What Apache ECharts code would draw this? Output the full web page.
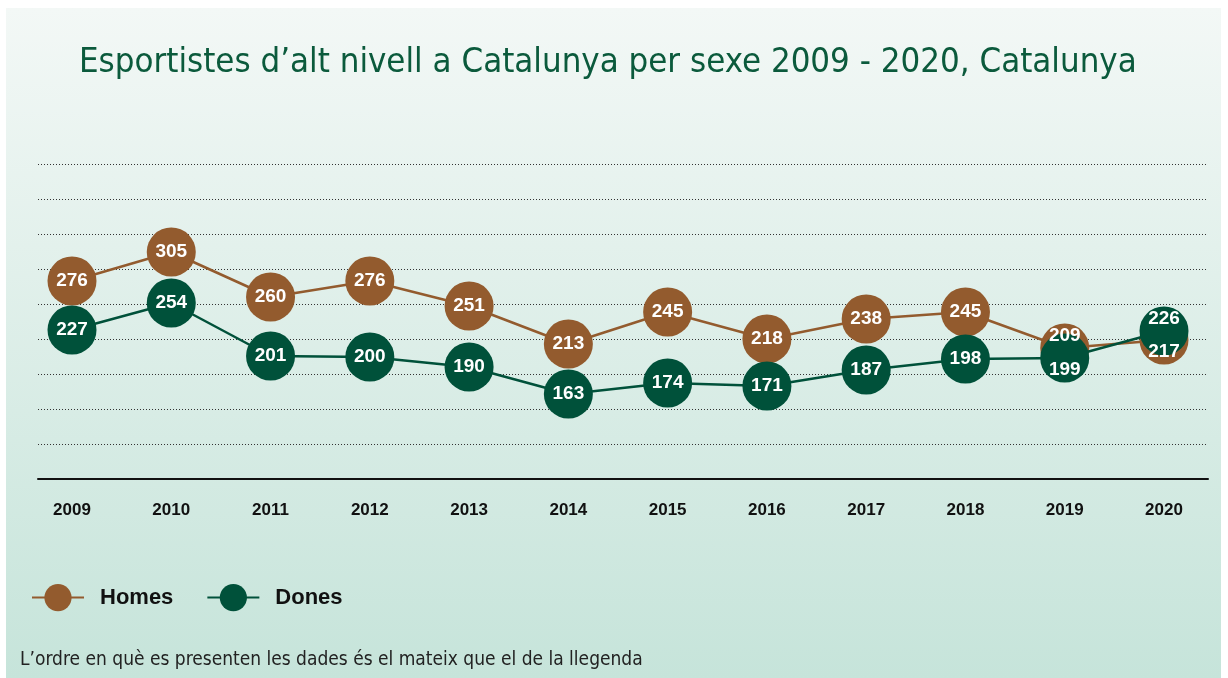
<!DOCTYPE html>
<html>
<head>
<meta charset="utf-8">
<script src="https://cdn.jsdelivr.net/npm/echarts@6/dist/echarts.min.js"></script>
<style>
  html, body { margin: 0; padding: 0; background: #ffffff; }
  #chart { width: 1228px; height: 678px; }
</style>
</head>
<body>
<div id="chart"></div>
<script>
// Years on the x axis
const years = ['2009', '2010', '2011', '2012', '2013', '2014', '2015', '2016', '2017', '2018', '2019', '2020'];
// High-level athletes by sex
const homes = [276, 305, 260, 276, 251, 213, 245, 218, 238, 245, 209, 217];
const dones = [227, 254, 201, 200, 190, 163, 174, 171, 187, 198, 199, 226];

const brown = '#935b2e';
const green = '#00513a';
const narrow = '"Liberation Sans Narrow", "DejaVu Sans Condensed", sans-serif';
const sans = '"Liberation Sans", Arial, sans-serif';

const chart = echarts.init(document.getElementById('chart'), null, { renderer: 'canvas' });

const plotTop = 164, plotBottom = 678 - 479;

// When the two series sit close together, nudge their value labels apart
// so both stay readable on top of the overlapping circles.
function labelNudge(own, other) {
  const d = own - other;
  if (Math.abs(d) >= 20) return 0;
  return d >= 0 ? -12 : 12;
}

function lineSeries(name, data, color, z) {
  return {
    name: name,
    type: 'line',
    xAxisIndex: 1,
    yAxisIndex: 1,
    data: data,
    z: z,
    symbol: 'circle',
    symbolSize: 49,
    itemStyle: { color: color, opacity: 1 },
    lineStyle: { color: color, width: 2.5 },
    label: { show: false },
    emphasis: { disabled: true },
    animation: false
  };
}

// Value labels drawn above every circle
function labelSeries(name, data, other) {
  return {
    name: name,
    type: 'scatter',
    xAxisIndex: 1,
    yAxisIndex: 1,
    z: 10,
    symbolSize: 1,
    itemStyle: { color: 'rgba(0,0,0,0)', opacity: 1 },
    silent: true,
    data: data.map((v, i) => ({
      value: v,
      label: { offset: [0, labelNudge(v, other[i])] }
    })),
    label: {
      show: true,
      position: 'inside',
      color: '#ffffff',
      opacity: 1,
      textBorderWidth: 0,
      fontFamily: sans,
      fontWeight: 'bold',
      fontSize: 19
    },
    emphasis: { disabled: true },
    animation: false
  };
}

chart.setOption({
  animation: false,
  graphic: [
    {
      type: 'rect',
      z: -10,
      shape: { x: 6, y: 8, width: 1215, height: 670 },
      style: {
        fill: new echarts.graphic.LinearGradient(0, 0, 0, 1, [
          { offset: 0, color: '#f3f8f6' },
          { offset: 1, color: '#c6e4da' }
        ])
      }
    },
    {
      type: 'text',
      left: 20,
      top: 651,
      style: {
        text: 'L\u2019ordre en què es presenten les dades és el mateix que el de la llegenda',
        fill: '#222222',
        font: '19px ' + narrow
      }
    }
  ],
  title: {
    text: 'Esportistes d\u2019alt nivell a Catalunya per sexe 2009 - 2020, Catalunya',
    left: 74,
    top: 41,
    textStyle: {
      color: '#0b5a3c',
      fontFamily: narrow,
      fontWeight: 'normal',
      fontSize: 34.5
    }
  },
  legend: {
    left: 31,
    top: 584,
    padding: 0,
    itemWidth: 52,
    itemHeight: 34,
    itemGap: 33,
    data: ['Homes', 'Dones'],
    textStyle: {
      color: '#111111',
      fontFamily: sans,
      fontWeight: 'bold',
      fontSize: 22,
      padding: [0, 0, 0, 11]
    }
  },
  grid: [
    { left: 38, right: 20, top: plotTop, bottom: plotBottom },
    { left: 72, right: 64, top: plotTop, bottom: plotBottom }
  ],
  xAxis: [
    {
      gridIndex: 0,
      type: 'category',
      data: years,
      axisLine: { show: true, lineStyle: { color: '#111111', width: 2 } },
      axisTick: { show: false },
      axisLabel: { show: false },
      splitLine: { show: false }
    },
    {
      gridIndex: 1,
      type: 'category',
      data: years,
      boundaryGap: false,
      axisLine: { show: false },
      axisTick: { show: false },
      axisLabel: {
        color: '#111111',
        fontFamily: sans,
        fontWeight: 'bold',
        fontSize: 17,
        margin: 23
      },
      splitLine: { show: false }
    }
  ],
  yAxis: [
    {
      gridIndex: 0,
      type: 'value',
      min: 0,
      max: 9,
      interval: 1,
      axisLine: { show: false },
      axisTick: { show: false },
      axisLabel: { show: false },
      splitLine: { show: true, lineStyle: { color: '#333333', width: 1, type: [1, 2] } }
    },
    {
      gridIndex: 1,
      type: 'value',
      min: 78,
      max: 393,
      axisLine: { show: false },
      axisTick: { show: false },
      axisLabel: { show: false },
      splitLine: { show: false }
    }
  ],
  series: [
    lineSeries('Homes', homes, brown, 3),
    lineSeries('Dones', dones, green, 4),
    labelSeries('Homes', homes, dones),
    labelSeries('Dones', dones, homes)
  ]
});
</script>
</body>
</html>
